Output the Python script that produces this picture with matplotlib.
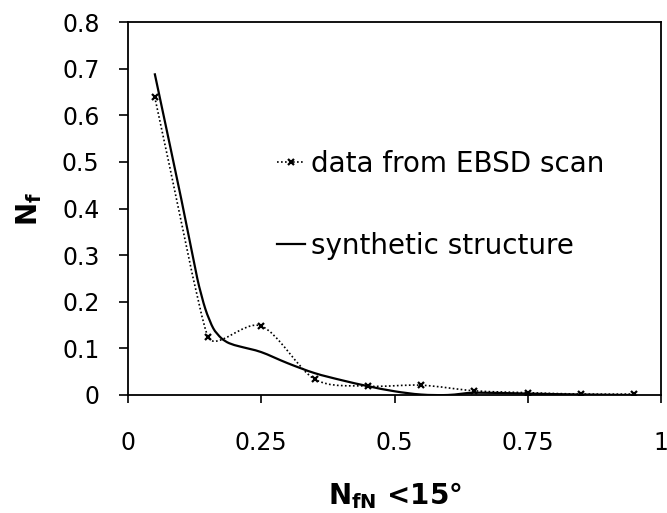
import matplotlib
matplotlib.use('Agg')
import matplotlib.pyplot as plt
import numpy as np
from matplotlib.path import Path
from matplotlib.patches import PathPatch
from matplotlib.lines import Line2D

# data
ebsd_x = [0.05, 0.15, 0.25, 0.35, 0.45, 0.55, 0.65, 0.75, 0.85, 0.95]
ebsd_y = [0.64, 0.125, 0.148, 0.034, 0.019, 0.021, 0.009, 0.005, 0.002, 0.002]
synth_x = [0.05, 0.10, 0.13, 0.145, 0.16, 0.175, 0.19, 0.21, 0.25, 0.30, 0.35,
           0.40, 0.45, 0.50, 0.55, 0.60, 0.65, 0.75, 0.85, 0.95]
synth_y = [0.69, 0.42, 0.25, 0.185, 0.143, 0.122, 0.111, 0.104, 0.092, 0.068,
           0.047, 0.032, 0.019, 0.008, 0.001, 0.0, 0.005, 0.003, 0.001, 0.0]

x_ticks = [0, 0.25, 0.5, 0.75, 1]
x_ticklabels = ['0', '0.25', '0.5', '0.75', '1']
y_ticks = [0, 0.1, 0.2, 0.3, 0.4, 0.5, 0.6, 0.7, 0.8]
y_ticklabels = ['0', '0.1', '0.2', '0.3', '0.4', '0.5', '0.6', '0.7', '0.8']

plt.rcParams['font.family'] = ['DejaVu Sans']
plt.rcParams['mathtext.fontset'] = 'dejavusans'


def smooth_path(ax, xs, ys):
    # spreadsheet style smoothed line, built in pixel space;
    # tangent length limited by the shorter neighbouring segment
    p = ax.transData.transform(np.column_stack([xs, ys]))
    n = len(p)
    seg = np.hypot(*np.diff(p, axis=0).T)
    tang = []
    for i in range(n):
        a = p[i - 1] if i > 0 else p[i]
        b = p[i + 1] if i < n - 1 else p[i]
        d = (b - a) / np.hypot(*(b - a))
        if i == 0:
            m = seg[0]
        elif i == n - 1:
            m = seg[-1]
        else:
            m = min(seg[i - 1], seg[i])
        tang.append(d * m / 3.0)
    verts = [p[0]]
    codes = [Path.MOVETO]
    for i in range(n - 1):
        verts += [p[i] + tang[i], p[i + 1] - tang[i + 1], p[i + 1]]
        codes += [Path.CURVE4] * 3
    verts = ax.transData.inverted().transform(np.array(verts))
    return Path(verts, codes)


fig = plt.figure(figsize=(6.67, 5.13), dpi=100)
ax = fig.add_axes([128 / 667, 1 - 395 / 513, (661 - 128) / 667, (395 - 22) / 513])
ax.set_xlim(0, 1)
ax.set_ylim(0, 0.8)

dot_style = (0, (1, 1.4))
ax.add_patch(PathPatch(smooth_path(ax, ebsd_x, ebsd_y), fill=False, color='black',
                       lw=1.2, linestyle=dot_style, zorder=3))
ax.plot(ebsd_x, ebsd_y, linestyle='none', marker='x', color='black',
        markersize=4.5, markeredgewidth=1.6, zorder=4)
ax.add_patch(PathPatch(smooth_path(ax, synth_x, synth_y), fill=False, color='black',
                       lw=1.6, zorder=3))

ax.set_xticks(x_ticks)
ax.set_xticklabels(x_ticklabels)
ax.set_yticks(y_ticks)
ax.set_yticklabels(y_ticklabels)
ax.tick_params(axis='x', direction='out', length=6, width=1.2, pad=20, labelsize=17)
ax.tick_params(axis='y', direction='out', length=6.5, width=1.2, pad=14, labelsize=17)
for s in ax.spines.values():
    s.set_linewidth(1.3)

ax.set_xlabel(r'$\mathbf{N_{fN}}$ <15°', fontsize=20, fontweight='bold', labelpad=18)
ax.set_ylabel(r'$\mathbf{N_f}$', fontsize=20, fontweight='bold', labelpad=13)

handles = [Line2D([], [], color='black', lw=1.2, linestyle=dot_style, marker='x',
                  markersize=4.5, markeredgewidth=1.6),
           Line2D([], [], color='black', lw=1.6)]
ax.legend(handles, ['data from EBSD scan', 'synthetic structure'],
          loc='upper left', bbox_to_anchor=(0.28, 0.657), frameon=False,
          fontsize=20, handlelength=1.0, handletextpad=0.2, labelspacing=1.95,
          borderpad=0, borderaxespad=0, numpoints=1)

fig.savefig('out.png', dpi=100)
